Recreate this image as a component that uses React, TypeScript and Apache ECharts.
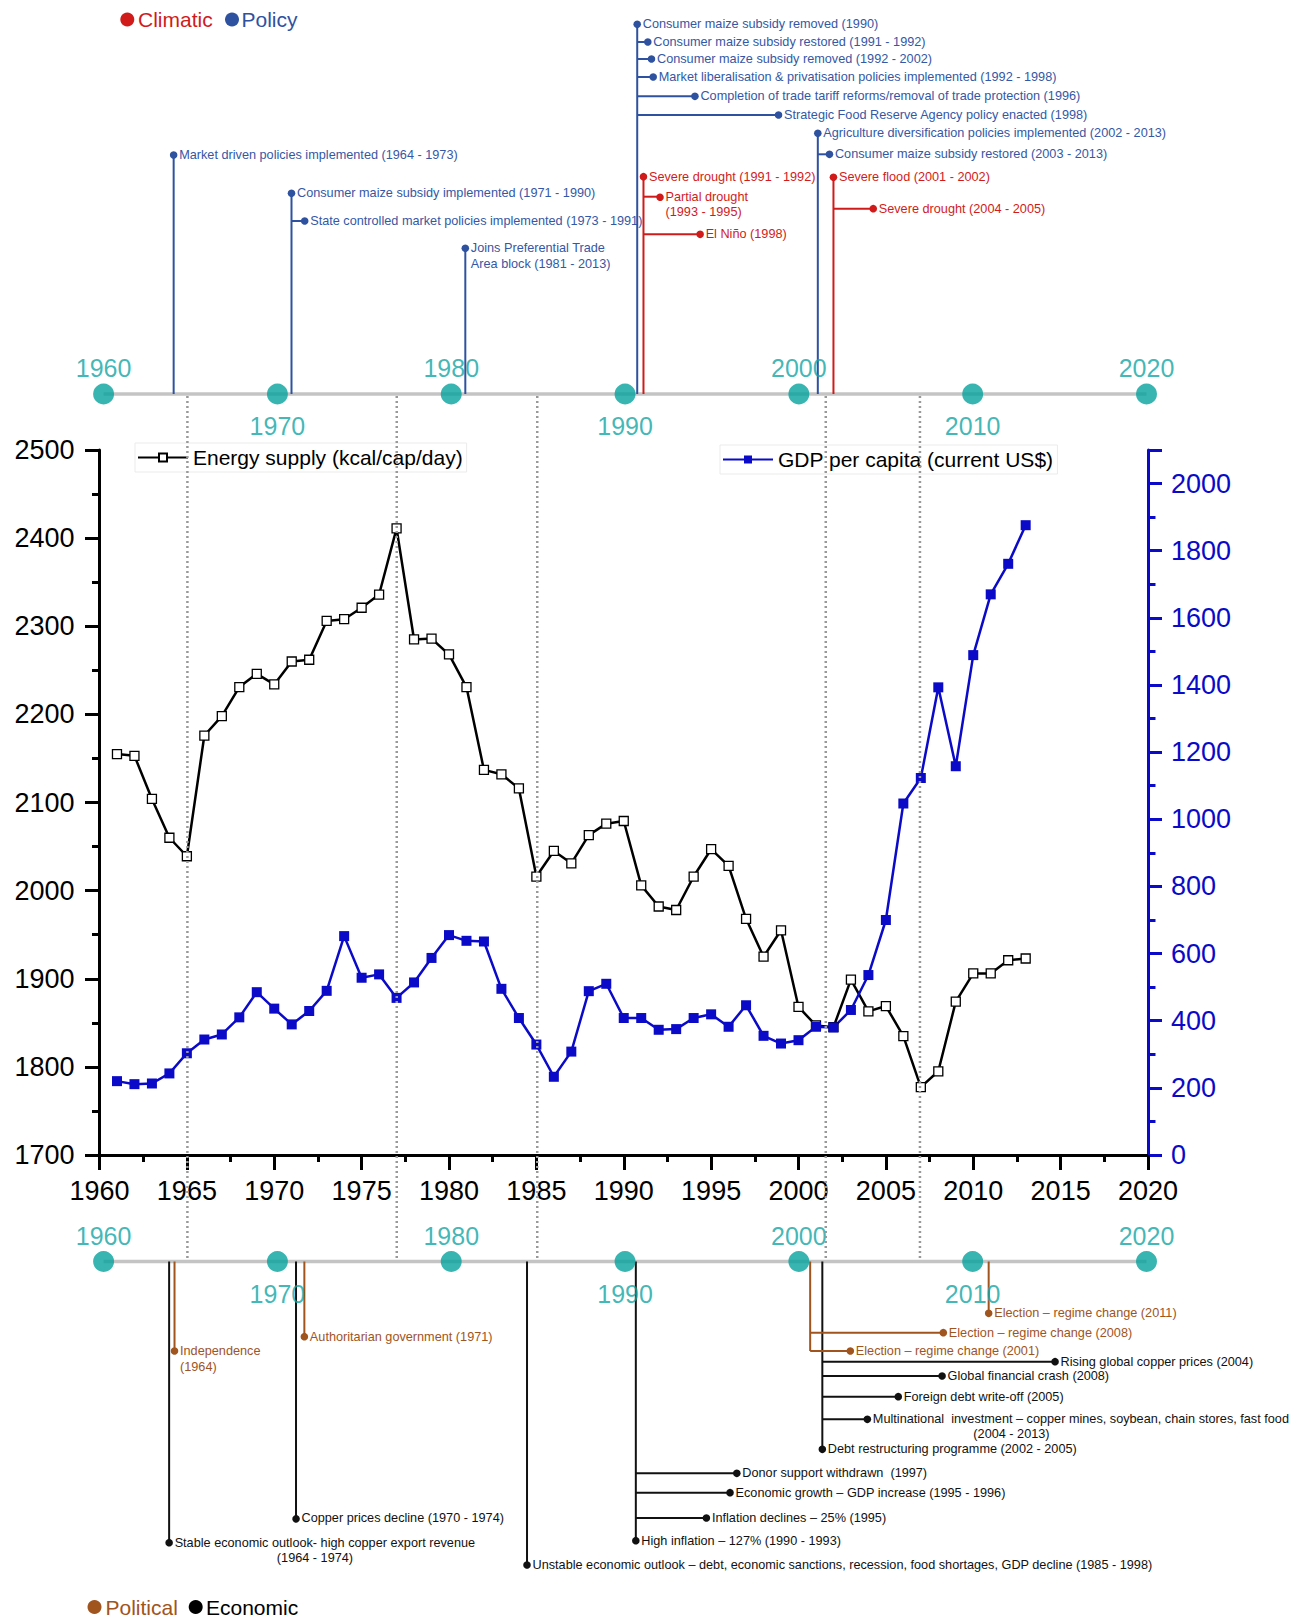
import React, { useEffect, useRef } from "react";
import * as echarts from "echarts";

const FONT = "'Liberation Sans', Arial, Helvetica, sans-serif";
const BLUE = "#0A0AC8";
const TEAL = "#07A29E";
const TEAL_TXT = "#0FA5A3";
const POLICY = "#2F52A0";
const POLICY_TXT = "#3557A5";
const CLIM = "#D11B1B";
const POLIT = "#A0541E";
const ECON = "#111111";

const years = [
  1961, 1962, 1963, 1964, 1965, 1966, 1967, 1968, 1969, 1970,
  1971, 1972, 1973, 1974, 1975, 1976, 1977, 1978, 1979, 1980,
  1981, 1982, 1983, 1984, 1985, 1986, 1987, 1988, 1989, 1990,
  1991, 1992, 1993, 1994, 1995, 1996, 1997, 1998, 1999, 2000,
  2001, 2002, 2003, 2004, 2005, 2006, 2007, 2008, 2009, 2010,
  2011, 2012, 2013,
];

const energySupply = [
  2155, 2153, 2104, 2060, 2039, 2176, 2198, 2231, 2246, 2234,
  2260, 2262, 2306, 2308, 2321, 2336, 2411, 2285, 2286, 2268,
  2231, 2137, 2132, 2116, 2016, 2045, 2031, 2063, 2076, 2079,
  2006, 1982, 1978, 2016, 2047, 2028, 1968, 1925, 1955, 1868,
  1847, 1845, 1899, 1863, 1869, 1835, 1777, 1795, 1874, 1906,
  1906, 1921, 1923,
];

const gdpPerCapita = [
  220, 211, 213, 243, 303, 344, 359, 410, 485, 436,
  389, 429, 489, 652, 528, 538, 468, 514, 587, 655,
  638, 636, 495, 408, 329, 233, 308, 488, 510, 408,
  408, 373, 375, 408, 419, 382, 446, 355, 332, 342,
  382, 380, 432, 536, 700, 1047, 1123, 1393, 1158, 1489,
  1670, 1761, 1876,
];

const decades = [1960, 1970, 1980, 1990, 2000, 2010, 2020];
const decadesAbove = [1960, 1980, 2000, 2020];

const markerYears = [1965.03, 1977.01, 1985.05, 2001.56, 2006.95];

type Item = { x: number; y: number; text: string; sub?: { x: number; y: number; text: string } };
type Group = { stem: number; items: Item[] };

const policyEvents: Group[] = [
  { stem: 1964.03, items: [{ x: 1964.03, y: 155, text: "Market driven policies implemented (1964 - 1973)" }] },
  {
    stem: 1970.81,
    items: [
      { x: 1970.81, y: 193.3, text: "Consumer maize subsidy implemented (1971 - 1990)" },
      { x: 1971.57, y: 221, text: "State controlled market policies implemented (1973 - 1991)" },
    ],
  },
  { stem: 1980.81, items: [{ x: 1980.81, y: 248.3, text: "Joins Preferential Trade\nArea block (1981 - 2013)" }] },
  {
    stem: 1990.7,
    items: [
      { x: 1990.7, y: 24.3, text: "Consumer maize subsidy removed (1990)" },
      { x: 1991.31, y: 42, text: "Consumer maize subsidy restored (1991 - 1992)" },
      { x: 1991.52, y: 59, text: "Consumer maize subsidy removed (1992 - 2002)" },
      { x: 1991.62, y: 77, text: "Market liberalisation & privatisation policies implemented (1992 - 1998)" },
      { x: 1994.02, y: 96.3, text: "Completion of trade tariff reforms/removal of trade protection (1996)" },
      { x: 1998.83, y: 115, text: "Strategic Food Reserve Agency policy enacted (1998)" },
    ],
  },
  {
    stem: 2001.09,
    items: [
      { x: 2001.09, y: 133.3, text: "Agriculture diversification policies implemented (2002 - 2013)" },
      { x: 2001.76, y: 154.3, text: "Consumer maize subsidy restored (2003 - 2013)" },
    ],
  },
];

const climaticEvents: Group[] = [
  {
    stem: 1991.06,
    items: [
      { x: 1991.06, y: 176.7, text: "Severe drought (1991 - 1992)" },
      { x: 1992.01, y: 196.7, text: "Partial drought\n(1993 - 1995)" },
      { x: 1994.32, y: 234.3, text: "El Niño (1998)" },
    ],
  },
  {
    stem: 2001.99,
    items: [
      { x: 2001.99, y: 177.3, text: "Severe flood (2001 - 2002)" },
      { x: 2004.28, y: 208.7, text: "Severe drought (2004 - 2005)" },
    ],
  },
];

const economicEvents: Group[] = [
  {
    stem: 1963.77,
    items: [
      {
        x: 1963.77,
        y: 1542.7,
        text: "Stable economic outlook- high copper export revenue",
        sub: { x: 1972.16, y: 1557.7, text: "(1964 - 1974)" },
      },
    ],
  },
  { stem: 1971.07, items: [{ x: 1971.07, y: 1518.3, text: "Copper prices decline (1970 - 1974)" }] },
  {
    stem: 1984.36,
    items: [
      {
        x: 1984.36,
        y: 1565,
        text: "Unstable economic outlook – debt, economic sanctions, recession, food shortages, GDP decline (1985 - 1998)",
      },
    ],
  },
  {
    stem: 1990.62,
    items: [
      { x: 1990.62, y: 1540.7, text: "High inflation – 127% (1990 - 1993)" },
      { x: 1994.68, y: 1518, text: "Inflation declines – 25% (1995)" },
      { x: 1996.04, y: 1492.7, text: "Economic growth – GDP increase (1995 - 1996)" },
      { x: 1996.43, y: 1473.3, text: "Donor support withdrawn  (1997)" },
    ],
  },
  {
    stem: 2001.35,
    items: [
      { x: 2001.35, y: 1449.3, text: "Debt restructuring programme (2002 - 2005)" },
      {
        x: 2003.94,
        y: 1419.3,
        text: "Multinational  investment – copper mines, soybean, chain stores, fast food",
        sub: { x: 2012.23, y: 1434.3, text: "(2004 - 2013)" },
      },
      { x: 2005.72, y: 1396.7, text: "Foreign debt write-off (2005)" },
      { x: 2008.24, y: 1376, text: "Global financial crash (2008)" },
      { x: 2014.74, y: 1361.7, text: "Rising global copper prices (2004)" },
    ],
  },
];

const politicalEvents: Group[] = [
  { stem: 1964.08, items: [{ x: 1964.08, y: 1351, text: "Independence\n(1964)" }] },
  { stem: 1971.55, items: [{ x: 1971.55, y: 1336.7, text: "Authoritarian government (1971)" }] },
  {
    stem: 2000.65,
    items: [
      { x: 2002.96, y: 1351, text: "Election – regime change (2001)" },
      { x: 2008.31, y: 1332.7, text: "Election – regime change (2008)" },
    ],
  },
  { stem: 2010.92, items: [{ x: 2010.92, y: 1313.3, text: "Election – regime change (2011)" }] },
];

const TOP_BASE = 394;
const BOT_BASE = 1261.5;

function eventSeries(
  groups: Group[],
  base: number,
  xAxisIndex: number,
  yAxisIndex: number,
  lineColor: string,
  textColor: string
) {
  return {
    type: "custom",
    xAxisIndex,
    yAxisIndex,
    clip: false,
    silent: true,
    z: 4,
    data: groups.map((g) => [g.stem, base]),
    renderItem: (params: any, api: any) => {
      const g = groups[params.dataIndex];
      const ys = g.items.map((it) => it.y);
      const far = ys.reduce((a, b) => (Math.abs(b - base) > Math.abs(a - base) ? b : a), ys[0]);
      const children: any[] = [];
      const p0 = api.coord([g.stem, base]);
      const p1 = api.coord([g.stem, far]);
      children.push({
        type: "line",
        shape: { x1: p0[0], y1: p0[1], x2: p1[0], y2: p1[1] },
        style: { stroke: lineColor, lineWidth: 2 },
      });
      g.items.forEach((it) => {
        const a = api.coord([g.stem, it.y]);
        const b = api.coord([it.x, it.y]);
        if (Math.abs(b[0] - a[0]) > 0.5) {
          children.push({
            type: "line",
            shape: { x1: a[0], y1: a[1], x2: b[0], y2: b[1] },
            style: { stroke: lineColor, lineWidth: 2 },
          });
        }
        children.push({
          type: "circle",
          shape: { cx: b[0], cy: b[1], r: 3.8 },
          style: { fill: lineColor },
        });
        children.push({
          type: "text",
          x: b[0] + 5.5,
          y: b[1] - 7.8,
          style: {
            text: it.text,
            fill: textColor,
            fontSize: 12.7,
            fontFamily: FONT,
            lineHeight: 15.6,
            align: "left",
            verticalAlign: "top",
          },
        });
        if (it.sub) {
          const s = api.coord([it.sub.x, it.sub.y]);
          children.push({
            type: "text",
            x: s[0],
            y: s[1],
            style: {
              text: it.sub.text,
              fill: textColor,
              fontSize: 12.7,
              fontFamily: FONT,
              align: "center",
              verticalAlign: "middle",
            },
          });
        }
      });
      return { type: "group", children };
    },
  };
}

function timelineSeries(base: number, xAxisIndex: number, yAxisIndex: number) {
  return [
    {
      type: "line",
      xAxisIndex,
      yAxisIndex,
      silent: true,
      symbol: "none",
      z: 1,
      data: [
        [1960, base],
        [2020, base],
      ],
      lineStyle: { color: "#C4C4C4", width: 3.5 },
    },
    {
      type: "scatter",
      xAxisIndex,
      yAxisIndex,
      silent: true,
      z: 5,
      symbol: "circle",
      symbolSize: 21,
      itemStyle: { color: TEAL },
      data: decades.map((d) => {
        const above = decadesAbove.indexOf(d) >= 0;
        return {
          value: [d, base],
          label: {
            show: true,
            position: above ? "top" : "bottom",
            distance: above ? 3 : 9,
            formatter: String(d),
            color: TEAL_TXT,
            fontSize: 25,
            fontFamily: FONT,
          },
        };
      }),
    },
  ];
}

function legendDot(cx: number, cy: number, color: string, label: string, tx: number) {
  return [
    { type: "circle", shape: { cx, cy, r: 7 }, style: { fill: color } },
    {
      type: "text",
      x: tx,
      y: cy,
      style: { text: label, fill: color, fontSize: 21, fontFamily: FONT, align: "left", verticalAlign: "middle" },
    },
  ];
}

const plain = (v: number) => String(v);

export default function App() {
  const ref = useRef<HTMLDivElement>(null);

  useEffect(() => {
    if (!ref.current) return;
    const chart = echarts.init(ref.current, null, { renderer: "svg", width: 1301, height: 1620 });

    const axisCommon = { show: false };
    const option: any = {
      animation: false,
      backgroundColor: "#ffffff",
      textStyle: { fontFamily: FONT },
      grid: [
        { left: 99.5, right: 153, top: 450, height: 705 },
        { left: 103.6, right: 154.5, top: 0, height: 400 },
        { left: 103.6, right: 154.5, top: 1220, height: 400 },
        { left: 99.5, right: 153, top: 395, height: 863 },
      ],
      legend: [
        {
          data: ["Energy supply (kcal/cap/day)"],
          left: 135,
          top: 443,
          padding: [4, 4, 4, 2],
          itemWidth: 50,
          itemHeight: 10,
          borderColor: "#ebebeb",
          borderWidth: 1,
          backgroundColor: "#ffffff",
          textStyle: { fontSize: 21, color: "#000", fontFamily: FONT },
          selectedMode: false,
        },
        {
          data: ["GDP per capita (current US$)"],
          left: 720,
          top: 445,
          padding: [4, 4, 4, 2],
          itemWidth: 50,
          itemHeight: 10,
          borderColor: "#ebebeb",
          borderWidth: 1,
          backgroundColor: "#ffffff",
          textStyle: { fontSize: 21, color: "#000", fontFamily: FONT },
          selectedMode: false,
        },
      ],
      xAxis: [
        {
          gridIndex: 0,
          type: "value",
          min: 1960,
          max: 2020,
          interval: 5,
          axisLine: { show: true, onZero: false, lineStyle: { color: "#000", width: 3 } },
          axisTick: { show: true, length: 15, lineStyle: { color: "#000", width: 3 } },
          minorTick: { show: true, splitNumber: 2, length: 7, lineStyle: { color: "#000", width: 3 } },
          axisLabel: { fontSize: 27, color: "#000", margin: 22, fontFamily: FONT, formatter: plain },
          splitLine: { show: false },
          minorSplitLine: { show: false },
        },
        { gridIndex: 1, type: "value", min: 1960, max: 2020, ...axisCommon },
        { gridIndex: 2, type: "value", min: 1960, max: 2020, ...axisCommon },
        { gridIndex: 3, type: "value", min: 1960, max: 2020, ...axisCommon },
      ],
      yAxis: [
        {
          gridIndex: 0,
          type: "value",
          position: "left",
          min: 1700,
          max: 2500,
          interval: 100,
          axisLine: { show: true, onZero: false, lineStyle: { color: "#000", width: 3 } },
          axisTick: { show: true, length: 14.5, lineStyle: { color: "#000", width: 3 } },
          minorTick: { show: true, splitNumber: 2, length: 7.5, lineStyle: { color: "#000", width: 3 } },
          axisLabel: { fontSize: 27, color: "#000", margin: 25, fontFamily: FONT, formatter: plain },
          splitLine: { show: false },
          minorSplitLine: { show: false },
        },
        {
          gridIndex: 0,
          type: "value",
          position: "right",
          min: 0,
          max: 2100,
          interval: 200,
          axisLine: { show: true, onZero: false, lineStyle: { color: BLUE, width: 3 } },
          axisTick: { show: true, length: 14, lineStyle: { color: BLUE, width: 3 } },
          minorTick: { show: true, splitNumber: 2, length: 7.5, lineStyle: { color: BLUE, width: 3 } },
          axisLabel: {
            fontSize: 27,
            color: BLUE,
            margin: 23,
            fontFamily: FONT,
            showMaxLabel: false,
            formatter: plain,
          },
          splitLine: { show: false },
          minorSplitLine: { show: false },
        },
        { gridIndex: 1, type: "value", min: 0, max: 400, inverse: true, ...axisCommon },
        { gridIndex: 2, type: "value", min: 1220, max: 1620, inverse: true, ...axisCommon },
        { gridIndex: 3, type: "value", min: 0, max: 1, ...axisCommon },
      ],
      series: [
        {
          name: "Energy supply (kcal/cap/day)",
          type: "line",
          xAxisIndex: 0,
          yAxisIndex: 0,
          data: years.map((y, i) => [y, energySupply[i]]),
          symbol: "rect",
          symbolSize: 9,
          showAllSymbol: true,
          z: 3,
          lineStyle: { color: "#000", width: 2.5 },
          itemStyle: { color: "#ffffff", borderColor: "#000", borderWidth: 1.3 },
        },
        {
          name: "GDP per capita (current US$)",
          type: "line",
          xAxisIndex: 0,
          yAxisIndex: 1,
          data: years.map((y, i) => [y, gdpPerCapita[i]]),
          symbol: "rect",
          symbolSize: 10,
          showAllSymbol: true,
          z: 3,
          lineStyle: { color: BLUE, width: 2.5 },
          itemStyle: { color: BLUE },
        },
        ...timelineSeries(TOP_BASE, 1, 2),
        ...timelineSeries(BOT_BASE, 2, 3),
        eventSeries(policyEvents, TOP_BASE, 1, 2, POLICY, POLICY_TXT),
        eventSeries(climaticEvents, TOP_BASE, 1, 2, CLIM, CLIM),
        eventSeries(economicEvents, BOT_BASE, 2, 3, ECON, ECON),
        eventSeries(politicalEvents, BOT_BASE, 2, 3, POLIT, POLIT),
        {
          type: "custom",
          xAxisIndex: 3,
          yAxisIndex: 4,
          clip: false,
          silent: true,
          z: 20,
          data: markerYears.map((y) => [y, 0]),
          renderItem: (params: any, api: any) => {
            const yr = markerYears[params.dataIndex];
            const a = api.coord([yr, 0]);
            const b = api.coord([yr, 1]);
            return {
              type: "line",
              shape: { x1: a[0], y1: a[1], x2: b[0], y2: b[1] },
              style: { stroke: "#999999", lineWidth: 2.5, lineDash: [2, 3] },
            };
          },
        },
      ],
      graphic: [
        ...legendDot(127.3, 19.5, CLIM, "Climatic", 138),
        ...legendDot(232, 19.5, POLICY, "Policy", 241.5),
        ...legendDot(94.5, 1607, POLIT, "Political", 105.5),
        ...legendDot(195.7, 1607, "#000", "Economic", 206),
      ],
    };

    chart.setOption(option);
    return () => chart.dispose();
  }, []);

  return (
    <div
      ref={ref}
      style={{ position: "absolute", left: 0, top: 0, width: 1301, height: 1620, background: "#fff" }}
    />
  );
}
